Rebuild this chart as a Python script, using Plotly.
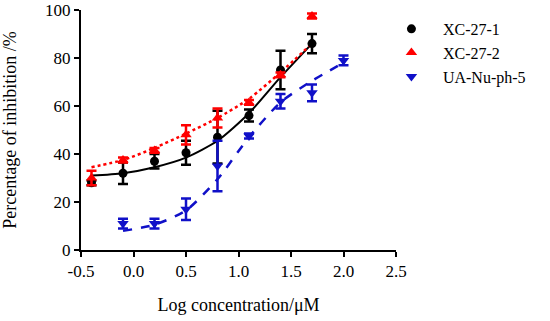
import plotly.graph_objects as go

# Data
x1 = [-0.4, -0.1, 0.2, 0.5, 0.8, 1.1, 1.4, 1.7]
y1 = [28, 32, 37, 40.5, 47, 56, 75, 86]
e1 = [1, 4.5, 3, 5, 11, 2.5, 8, 4]

x2 = [-0.4, -0.1, 0.2, 0.5, 0.8, 1.1, 1.4, 1.7]
y2 = [30, 37.5, 41.5, 48, 55, 61.5, 73, 97.5]
e2 = [3, 1, 1, 4, 4, 1, 1, 1]

x3 = [-0.1, 0.2, 0.5, 0.8, 1.1, 1.4, 1.7, 2.0]
y3 = [11, 11, 17, 35, 47.5, 62, 65.5, 79]
e3 = [2, 2, 4.5, 10.5, 1, 3, 3.5, 2]

# Fitted curves
fx1 = [-0.4, -0.1, 0.2, 0.5, 0.8, 1.1, 1.4, 1.7]
fy1 = [31, 32, 34.5, 38.5, 45.5, 57, 72, 86]
fx2 = [-0.4, -0.1, 0.2, 0.5, 0.8, 1.1, 1.4, 1.7]
fy2 = [34.5, 37.5, 42.5, 48.5, 55, 63, 74, 86]
fx3 = [-0.1, 0.2, 0.5, 0.8, 1.1, 1.4, 1.7, 2.0]
fy3 = [8, 10.5, 16.5, 29.5, 47, 61.5, 70.5, 78]

names = ["XC-27-1", "XC-27-2", "UA-Nu-ph-5"]
xticks = [-0.5, 0.0, 0.5, 1.0, 1.5, 2.0, 2.5]
xticklabels = ["-0.5", "0.0", "0.5", "1.0", "1.5", "2.0", "2.5"]
yticks = [0, 20, 40, 60, 80, 100]

FONT = "Liberation Serif, Times New Roman, serif"

fig = go.Figure()
fig.add_trace(go.Scatter(x=fx1, y=fy1, mode="lines", line=dict(color="black", width=2, shape="spline", smoothing=0.7),
                         showlegend=False, hoverinfo="skip"))
fig.add_trace(go.Scatter(x=fx2, y=fy2, mode="lines", line=dict(color="red", width=2.5, dash="dot", shape="spline", smoothing=0.7),
                         showlegend=False, hoverinfo="skip"))
fig.add_trace(go.Scatter(x=fx3, y=fy3, mode="lines", line=dict(color="#1010c8", width=2.5, dash="dash", shape="spline", smoothing=0.7),
                         showlegend=False, hoverinfo="skip"))

fig.add_trace(go.Scatter(x=x1, y=y1, mode="markers", name=names[0],
                         marker=dict(symbol="circle", size=9, color="black"),
                         error_y=dict(type="data", array=e1, color="black", thickness=2.5, width=5)))
fig.add_trace(go.Scatter(x=x2, y=y2, mode="markers", name=names[1],
                         marker=dict(symbol="triangle-up", size=10, color="red"),
                         error_y=dict(type="data", array=e2, color="red", thickness=2.5, width=5)))
fig.add_trace(go.Scatter(x=x3, y=y3, mode="markers", name=names[2],
                         marker=dict(symbol="triangle-down", size=10, color="#1010c8"),
                         error_y=dict(type="data", array=e3, color="#1010c8", thickness=2.5, width=5)))

fig.update_layout(
    width=550, height=321,
    margin=dict(l=81, r=154, t=10, b=71, autoexpand=False),
    paper_bgcolor="white", plot_bgcolor="white",
    font=dict(family=FONT, color="black", size=16),
    legend=dict(x=0.949, y=0.992, xanchor="left", yanchor="top", itemwidth=53,
                font=dict(family=FONT, size=16, color="black"),
                bgcolor="rgba(0,0,0,0)", tracegroupgap=0),
    xaxis=dict(range=[-0.5, 2.5], tickvals=xticks, ticktext=xticklabels,
               showgrid=False, zeroline=False, showline=True, linecolor="black", linewidth=2,
               ticks="outside", ticklen=5, tickwidth=2, tickcolor="black",
               ticklabeloverflow="allow",
               tickfont=dict(family=FONT, size=17, color="black"),
               title=dict(text="Log concentration/μM", font=dict(family=FONT, size=18), standoff=18)),
    yaxis=dict(range=[0, 100], tickvals=yticks,
               showgrid=False, zeroline=False, showline=True, linecolor="black", linewidth=2,
               ticks="outside", ticklen=5, tickwidth=2, tickcolor="black",
               ticklabeloverflow="allow",
               tickfont=dict(family=FONT, size=17, color="black"),
               title=dict(text="Percentage of inhibition /%", font=dict(family=FONT, size=18), standoff=27)),
)

fig.write_html("out.html", config={"displayModeBar": False},
               post_script="document.body.style.margin='0px';")
